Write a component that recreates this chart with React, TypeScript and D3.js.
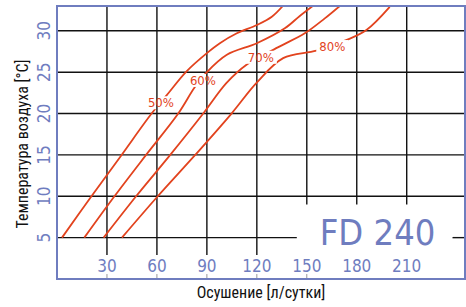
import React from 'react';
import * as d3 from 'd3';

// capacity (л/сутки) against air temperature (°C), one list per humidity curve
const rh50Capacity = [3, 20.7, 38.8, 56.8, 65.8, 77.8, 90, 97.8, 108, 120, 129, 135.6];
const rh50Temp = [5, 10, 15, 20, 22.2, 25.1, 27.3, 28.5, 29.7, 30.7, 31.7, 33];
const rh60Capacity = [16.4, 34.5, 53.5, 72.8, 82.8, 90, 102, 120, 136.8, 145.8, 153.6];
const rh60Temp = [5, 10, 15, 20, 23.2, 25, 27.1, 28.5, 30.3, 31.8, 33];
const rh70Capacity = [28, 47.5, 68, 87.8, 101.8, 113.8, 132.6, 148.8, 160.8, 169.8];
const rh70Temp = [5, 10, 15, 20, 23.7, 25.9, 28, 29.7, 31.5, 33];
const rh80Capacity = [39, 60.5, 83, 104.8, 119.8, 135.8, 155.8, 174, 185.8, 199.8];
const rh80Temp = [5, 10, 15, 20, 23.7, 26.7, 27.6, 28.9, 30.1, 32.9];

const curveLabels = ['50%', '60%', '70%', '80%'];
const labelCapacity = [62.4, 87.6, 122.4, 165.3];
const labelTemp = [21.3, 24.0, 26.8, 28.1];

const xTicks = [30, 60, 90, 120, 150, 180, 210];
const yTicks = [5, 10, 15, 20, 25, 30];

const width = 466;
const height = 307;
const blue = '#6f7dbf';
const red = '#e2431e';
const numFont = '"DejaVu Sans Condensed", "DejaVu Sans", sans-serif';
const titleFont = '"Liberation Sans Narrow", "Roboto Condensed", "Liberation Sans", sans-serif';

const x = d3.scaleLinear().domain([0, 245]).range([57, 465]);
const y = d3.scaleLinear().domain([0, 33]).range([279, 6]);

// where the grid gives way to the tick labels and the model box
const gridFloor = 2.9;
const boxTemp = 9;
const boxFrom = 144;
const boxTo = 237.5;

const series = [
  rh50Capacity.map((c, i) => [c, rh50Temp[i]]),
  rh60Capacity.map((c, i) => [c, rh60Temp[i]]),
  rh70Capacity.map((c, i) => [c, rh70Temp[i]]),
  rh80Capacity.map((c, i) => [c, rh80Temp[i]]),
];

const line = d3.line<number[]>()
  .x(d => x(d[0]))
  .y(d => y(d[1]))
  .curve(d3.curveCatmullRom.alpha(0.5));

export default function App() {
  const [x0, x1] = x.range();
  const [y0, y1] = y.range();

  return (
    <svg width={width} height={height} style={{ position: 'absolute', left: 0, top: 0, background: '#fff' }}>
      <defs>
        <clipPath id="plot">
          <rect x={x0} y={y1} width={x1 - x0} height={y0 - y1} />
        </clipPath>
        <mask id="gaps">
          <rect x={0} y={0} width={width} height={height} fill="#fff" />
          {curveLabels.map((t, i) => (
            <rect key={t} x={x(labelCapacity[i]) - 16} y={y(labelTemp[i]) - 6.5} width={32} height={13} fill="#000" />
          ))}
        </mask>
      </defs>

      {/* grid */}
      <g stroke="#111" strokeWidth={1.4}>
        {yTicks.map(t => t === 5 ? (
          <g key={t}>
            <line x1={x0} x2={x(boxFrom)} y1={y(t)} y2={y(t)} />
            <line x1={x(boxTo)} x2={x1} y1={y(t)} y2={y(t)} />
          </g>
        ) : (
          <line key={t} x1={x0} x2={x1} y1={y(t)} y2={y(t)} />
        ))}
        {xTicks.map(t => (
          <line key={t} x1={x(t)} x2={x(t)} y1={y1} y2={t < boxFrom ? y(gridFloor) : y(boxTemp)} />
        ))}
      </g>
      <g stroke="#999" strokeWidth={1}>
        {xTicks.filter(t => t <= 150).map(t => (
          <line key={t} x1={x(t)} x2={x(t)} y1={y(0.6)} y2={y0} />
        ))}
      </g>

      {/* humidity curves */}
      <g clipPath="url(#plot)" mask="url(#gaps)">
        {series.map((s, i) => (
          <path key={i} d={line(s) || ''} fill="none" stroke={red} strokeWidth={1.8} />
        ))}
      </g>
      {curveLabels.map((t, i) => (
        <text key={t} x={x(labelCapacity[i])} y={y(labelTemp[i])} dy="0.36em" textAnchor="middle"
          fontFamily={numFont} fontSize={13} fill={red}>{t}</text>
      ))}

      {/* frame */}
      <rect x={x0} y={y1} width={x1 - x0} height={y0 - y1} fill="none" stroke={blue} strokeWidth={2} />

      {/* tick labels */}
      {xTicks.map(t => (
        <text key={t} x={x(t)} y={272} textAnchor="middle" fontFamily={numFont} fontSize={17} fill={blue}>{t}</text>
      ))}
      {yTicks.map(t => (
        <text key={t} transform={`translate(50,${y(t)}) rotate(-90)`} textAnchor="middle"
          fontFamily={numFont} fontSize={17} fill={blue}>{t}</text>
      ))}

      <text x={x(192.5)} y={245} textAnchor="middle" fontFamily={numFont} fontSize={36} fill={blue}>FD 240</text>

      {/* axis titles */}
      <text x={261} y={298} textAnchor="middle" fontFamily={titleFont} fontSize={16} fill="#111">Осушение [л/сутки]</text>
      <text transform="translate(28,144) rotate(-90)" textAnchor="middle" fontFamily={titleFont} fontSize={16} fill="#111">
        Температура воздуха [°C]
      </text>
    </svg>
  );
}
